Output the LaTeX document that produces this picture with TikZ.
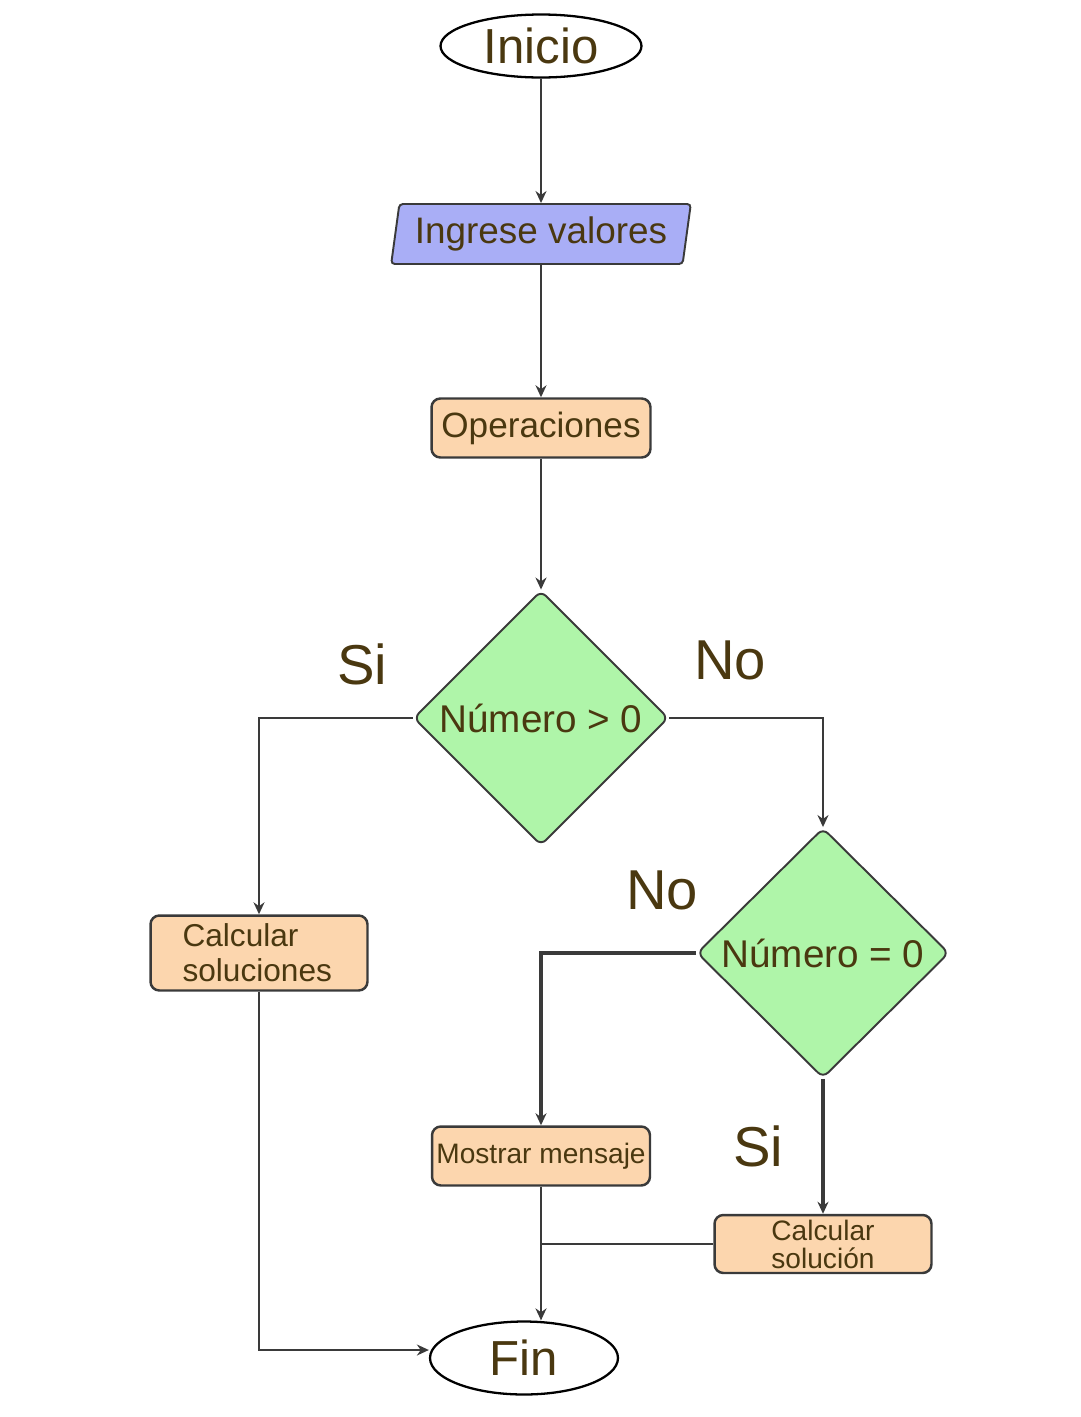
\documentclass[tikz,border=0pt]{standalone}
\usepackage{fontspec}
\setmainfont{Liberation Sans}
\usepackage{xcolor}
\usetikzlibrary{shapes.geometric,arrows.meta}
\definecolor{txtbrown}{HTML}{4A3810}
\definecolor{linegray}{HTML}{3A3A3A}
\definecolor{inputblue}{HTML}{A9AEF6}
\definecolor{procpeach}{HTML}{FCD6AE}
\definecolor{decgreen}{HTML}{AFF5A9}

\begin{document}
\begin{tikzpicture}[x=0.02cm,y=-0.02cm,
  every node/.style={text=txtbrown},
  term/.style={ellipse,draw=black,line width=1.3pt,fill=white,inner sep=0pt},
  inbox/.style={trapezium,trapezium left angle=78,trapezium right angle=102,trapezium stretches=true,
    draw=linegray,line width=1.1pt,fill=inputblue,rounded corners=2pt,inner sep=0pt},
  procbox/.style={rectangle,rounded corners=5pt,draw=linegray,line width=1.4pt,fill=procpeach,inner sep=0pt},
  decbox/.style={diamond,aspect=1,draw=linegray,line width=1.1pt,fill=decgreen,rounded corners=4pt,
    inner sep=0pt,minimum width=5.1cm,minimum height=5.1cm},
  flow/.style={draw=linegray,line width=1.1pt,-{Stealth[length=2.4mm,width=2.2mm]}},
  thickflow/.style={flow,line width=2.4pt},
  lbl/.style={font=\fontsize{32}{34}\selectfont}]
\useasboundingbox (0,0) rectangle (1080,1417);
% nodes
\node[term,minimum width=4.02cm,minimum height=1.26cm,font=\fontsize{28}{30}\selectfont] (inicio) at (541,46) {Inicio};
\node[inbox,minimum width=6.0cm,minimum height=1.2cm,font=\fontsize{21}{23}\selectfont] (ingrese) at (541,234) {Ingrese valores};
\node[procbox,minimum width=4.38cm,minimum height=1.18cm,font=\fontsize{20}{22}\selectfont] (oper) at (541,428) {Operaciones};
\node[decbox,font=\fontsize{22}{24}\selectfont] (dec1) at (541,718) {Número > 0};
\node[decbox,minimum width=5.04cm,minimum height=5.0cm,font=\fontsize{22}{24}\selectfont] (dec2) at (823,953) {Número = 0};
\node[procbox,minimum width=4.34cm,minimum height=1.5cm,text width=3.06cm,inner xsep=0.64cm,align=left,
  font=\fontsize{18}{20}\selectfont] (calc1) at (259,953) {Calcular\\soluciones};
\node[procbox,minimum width=4.36cm,minimum height=1.18cm,font=\fontsize{16}{18}\selectfont] (msg) at (541,1156) {Mostrar mensaje};
\node[procbox,minimum width=4.34cm,minimum height=1.16cm,align=center,font=\fontsize{16}{17}\selectfont] (calc2) at (823,1244) {Calcular\\[-1pt]solución};
\node[term,minimum width=3.76cm,minimum height=1.46cm,font=\fontsize{28}{30}\selectfont] (fin) at (524,1358) {Fin};
% labels
\node[lbl] (si1) at (362,664) {Si};
\node[lbl] (no1) at (730,660) {No};
\node[lbl] (no2) at (662,890) {No};
\node[lbl] (si2) at (758,1146) {Si};
% connectors
\draw[flow] (inicio) -- (ingrese);
\draw[flow] (ingrese) -- (oper);
\draw[flow] (oper) -- (dec1);
\draw[flow] (dec1.west) -| (calc1.north);
\draw[flow] (dec1.east) -| (dec2.north);
\draw[thickflow] (dec2.west) -| (msg.north);
\draw[thickflow] (dec2.south) -- (calc2.north);
\coordinate (join) at (calc2.west -| msg.south);
\draw[line width=1.1pt,draw=linegray] (calc2.west) -- (join);
\draw[flow] (msg.south) -- (msg.south |- fin.north);
\draw[flow] (calc1.south) |- ([yshift=0.16cm]fin.west);
\end{tikzpicture}
\end{document}
